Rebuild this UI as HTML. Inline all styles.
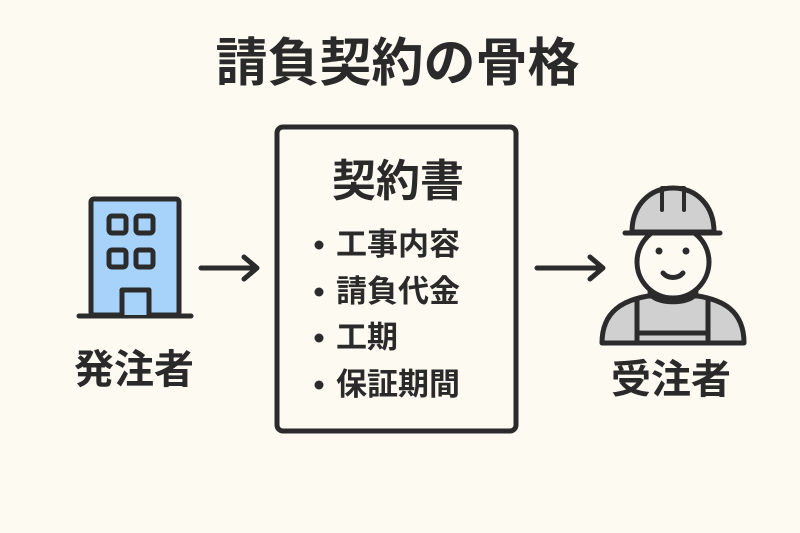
<!DOCTYPE html>
<html><head><meta charset="utf-8"><style>
body{margin:0;width:800px;height:533px;background:#fdfaf2;overflow:hidden;position:relative;font-family:"Liberation Sans","Noto Sans CJK JP",sans-serif;color:#2a2a2a}
.t{position:absolute;white-space:nowrap;font-weight:bold;line-height:1}
</style></head><body>
<svg width="800" height="533" style="position:absolute;left:0;top:0">
<g stroke="#2b2b2b" stroke-width="5" stroke-linecap="round" stroke-linejoin="round">
<rect x="277" y="127" width="239" height="304" rx="6" fill="#fdfaf2"/>
<rect x="91" y="199" width="88" height="116" rx="3" fill="#a7d3fb"/>
<line x1="79" y1="316" x2="191" y2="316"/>
<rect x="109" y="216" width="17" height="17" rx="3" fill="#a7d3fb"/>
<rect x="136" y="216" width="17" height="17" rx="3" fill="#a7d3fb"/>
<rect x="109" y="250" width="17" height="17" rx="3" fill="#a7d3fb"/>
<rect x="136" y="250" width="17" height="17" rx="3" fill="#a7d3fb"/>
<path d="M122 315V290H149V315" fill="#a7d3fb"/>
<path d="M201 268H256M244 257L257 268L244 279" fill="none"/>
<path d="M537 268H602M590 257L603 268L590 279" fill="none"/>
<path d="M602 343C602 310 625 300 648 296H698C722 300 744 310 744 343Z" fill="#d0d0d0"/>
<path d="M637 300V343M708 300V343M637 333H708" fill="none"/>
<path d="M650 292C652 305 694 305 696 292" fill="#fdfaf2"/>
<circle cx="673" cy="262" r="36" fill="#fdfaf2"/>
<path d="M632 232C632 205 650 188 673 188C696 188 714 205 714 232Z" fill="#d0d0d0"/>
<line x1="625" y1="233" x2="720" y2="233"/>
<path d="M662 210V188H684V210" fill="none" stroke-width="4"/>
<path d="M663 273C668 279 678 279 683 273" fill="none"/>
</g>
<circle cx="659" cy="251" r="3.5" fill="#2b2b2b"/><circle cx="686" cy="251" r="3.5" fill="#2b2b2b"/>
<g fill="#2b2b2b"><circle cx="319" cy="245" r="4.5"/><circle cx="319" cy="292" r="4.5"/><circle cx="319" cy="338" r="4.5"/><circle cx="319" cy="385" r="4.5"/></g>
</svg>
<div class="t" style="left:0;width:795px;text-align:center;top:38px;font-size:52px">請負契約の骨格</div>
<div class="t" style="left:277px;width:242px;text-align:center;top:160px;font-size:44px">契約書</div>
<div class="t" style="left:336px;top:229px;font-size:31px">工事内容</div>
<div class="t" style="left:336px;top:276px;font-size:31px">請負代金</div>
<div class="t" style="left:336px;top:322px;font-size:31px">工期</div>
<div class="t" style="left:336px;top:369px;font-size:31px">保証期間</div>
<div class="t" style="left:74px;top:350px;font-size:40px">発注者</div>
<div class="t" style="left:611px;top:360px;font-size:40px">受注者</div>
</body></html>
